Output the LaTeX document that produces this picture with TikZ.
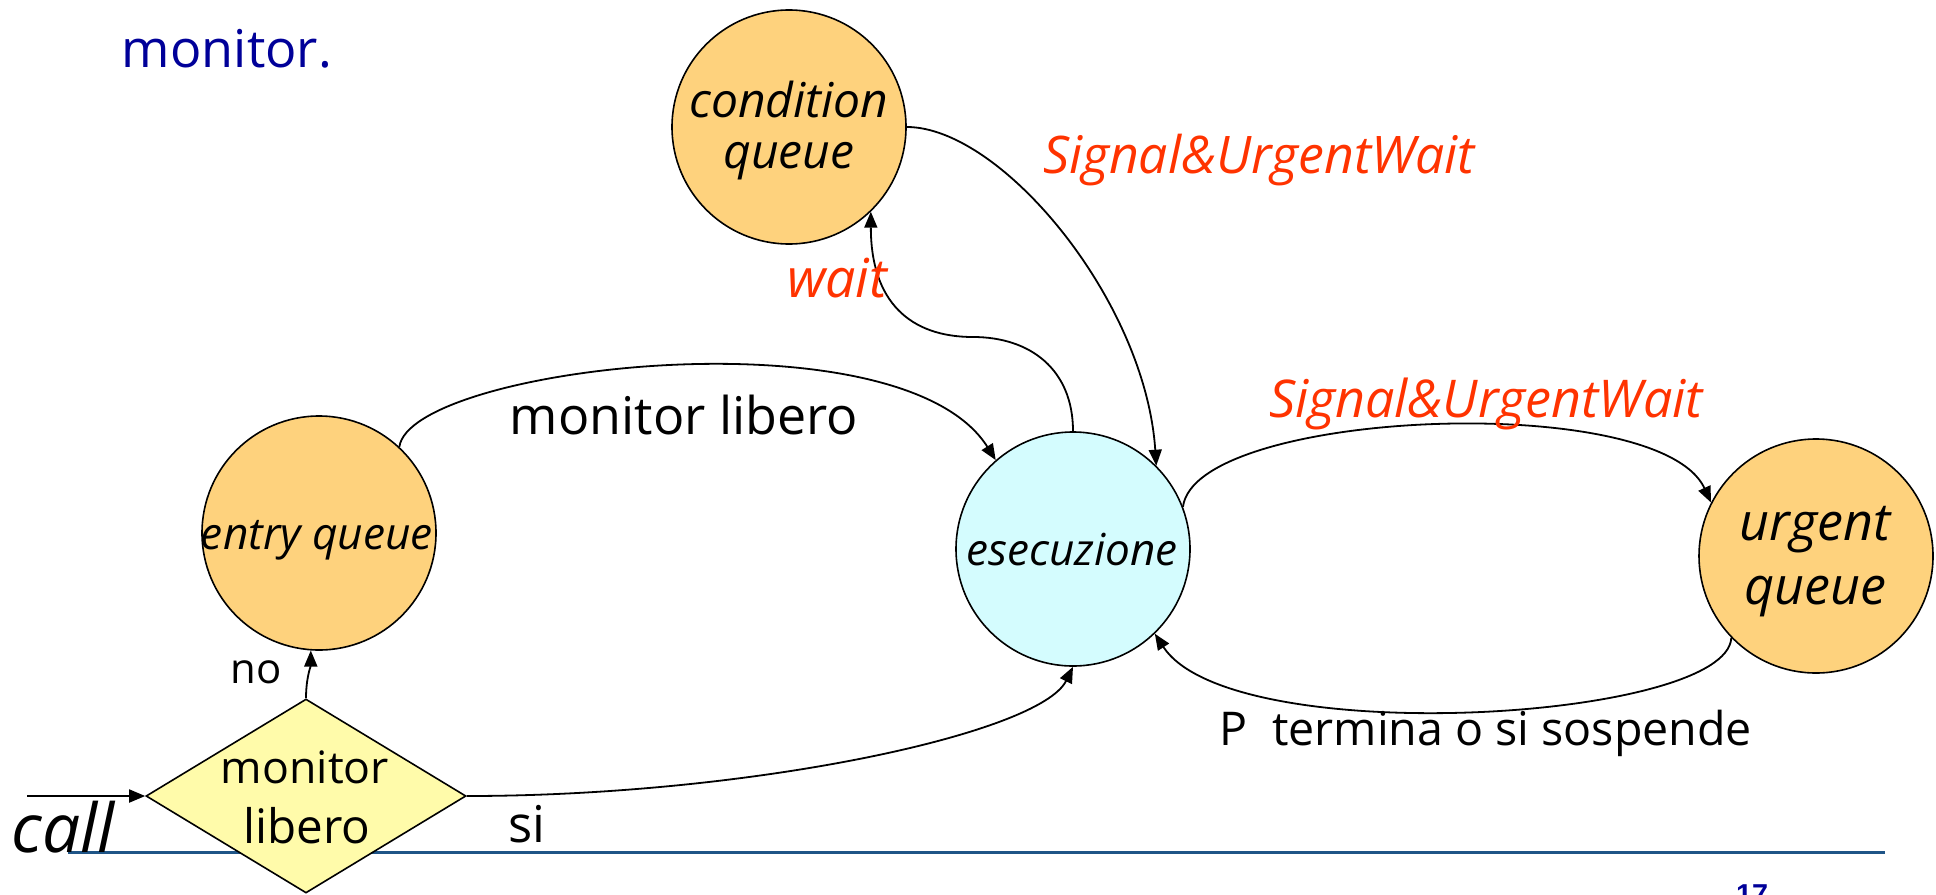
\documentclass[tikz,border=0pt]{standalone}
\usepackage{fontspec}
\setmainfont{Open Sans}
\newfontfamily\numfont{Liberation Sans}
\usetikzlibrary{arrows.meta,shapes.geometric}
\newlength\pxu
\setlength\pxu{0.5pt}
% scale a text to a given width (in picture units)
\newcommand\fitw[2]{\resizebox{#1\pxu}{!}{#2}}
\definecolor{qfill}{HTML}{FED27D}
\definecolor{efill}{HTML}{D4FCFE}
\definecolor{dfill}{HTML}{FFFBAA}
\definecolor{redlab}{HTML}{FF3300}
\definecolor{navy}{HTML}{000099}
\definecolor{rulecol}{HTML}{1F5587}
\begin{document}
\begin{tikzpicture}[x=0.5pt,y=-0.5pt,
  queue/.style={circle,draw=black,line width=0.8pt,fill=qfill,minimum size=234\pxu,inner sep=0pt},
  runbox/.style={circle,draw=black,line width=0.8pt,fill=efill,minimum size=234\pxu,inner sep=0pt},
  testbox/.style={diamond,draw=black,line width=0.8pt,fill=dfill,minimum width=320\pxu,minimum height=194\pxu,inner sep=0pt},
  lbl/.style={anchor=base,inner sep=0pt},
  red lbl/.style={lbl,text=redlab},
  condtxt/.style={lbl,font=\fontsize{24pt}{28pt}\selectfont\itshape},
  urgtxt/.style={lbl,font=\fontsize{26pt}{30pt}\selectfont\itshape},
  flow/.style={draw=black,line width=0.9pt,-{Triangle[length=8pt,width=6.5pt]}},
  rule line/.style={draw=rulecol,line width=1.5pt},
]
\useasboundingbox (0,0) rectangle (1936,894);

% footer rule
\coordinate (ruleL) at (68,852);
\coordinate (ruleR) at (1885,852);
\draw[rule line] (ruleL) -- (ruleR);

% heading fragment and page number
\node[lbl,text=navy] (head) at (227,67) {\fitw{210}{monitor.}};
\node[anchor=north,inner sep=0pt,text=navy,font=\numfont\bfseries] (page) at (1752,884) {\fitw{32}{17}};

% states
\node[testbox] (dia) at (306,796) {};
\node[queue] (entry) at (319,533) {};
\node[queue] (cond) at (789,127) {};
\node[runbox] (exec) at (1073,549) {};
\node[queue] (urg) at (1816,556) {};

% connectors
\coordinate (callstart) at (27,796);
\draw[flow] (callstart) -- (dia.west);
\draw[flow] (dia.north) .. controls +(0,-20) and +(0,15) .. (entry.266);
\draw[flow] (entry.47) .. controls +(11,-80) and +(-95,-151) .. (exec.131);
\draw[flow] (exec.90) .. controls +(0,-62) and +(57,0) .. (973,337)
                      .. controls +(-63,0) and +(0,90) .. (cond.-46);
\draw[flow] (cond.0) .. controls +(94,0) and +(-11,-166) .. (exec.45);
\draw[flow] (exec.21) .. controls +(12,-97) and +(-52,-113) .. (urg.153);
\draw[flow] (urg.224) .. controls +(-4,83) and +(76,117) .. (exec.-46);
\draw[flow] (dia.east) .. controls +(283,0) and +(-33,67) .. (exec.-90);

% texts in the states
\node[lbl] (tdia1) at (305,783) {\fitw{168}{monitor}};
\node[lbl] (tdia2) at (307,843) {\fitw{127}{libero}};
\node[lbl] (tentry) at (317,549) {\fitw{232}{\itshape entry queue}};
\node[condtxt] (tcond1) at (789,117) {condition};
\node[condtxt] (tcond2) at (789,168) {queue};
\node[lbl] (texec) at (1072,565) {\fitw{211}{\itshape esecuzione}};
\node[urgtxt] (turg1) at (1815,540) {urgent};
\node[urgtxt] (turg2) at (1815,604) {queue};

% texts on the connectors
\node[lbl] (tcall) at (63,852) {\fitw{103}{\itshape call}};
\node[lbl] (tno) at (256,683) {\fitw{51}{no}};
\node[lbl] (tsi) at (527,842) {\fitw{37}{si}};
\node[lbl] (tfree) at (684,434) {\fitw{348}{monitor libero}};
\node[red lbl] (twait) at (837,297) {\fitw{100}{\itshape wait}};
\node[red lbl] (tsig1) at (1259,173) {\fitw{432}{\itshape Signal\&UrgentWait}};
\node[red lbl] (tsig2) at (1486,417) {\fitw{434}{\itshape Signal\&UrgentWait}};
\node[lbl] (tend) at (1486,745) {\fitw{532}{P\ \ termina o si sospende}};
\end{tikzpicture}
\end{document}
